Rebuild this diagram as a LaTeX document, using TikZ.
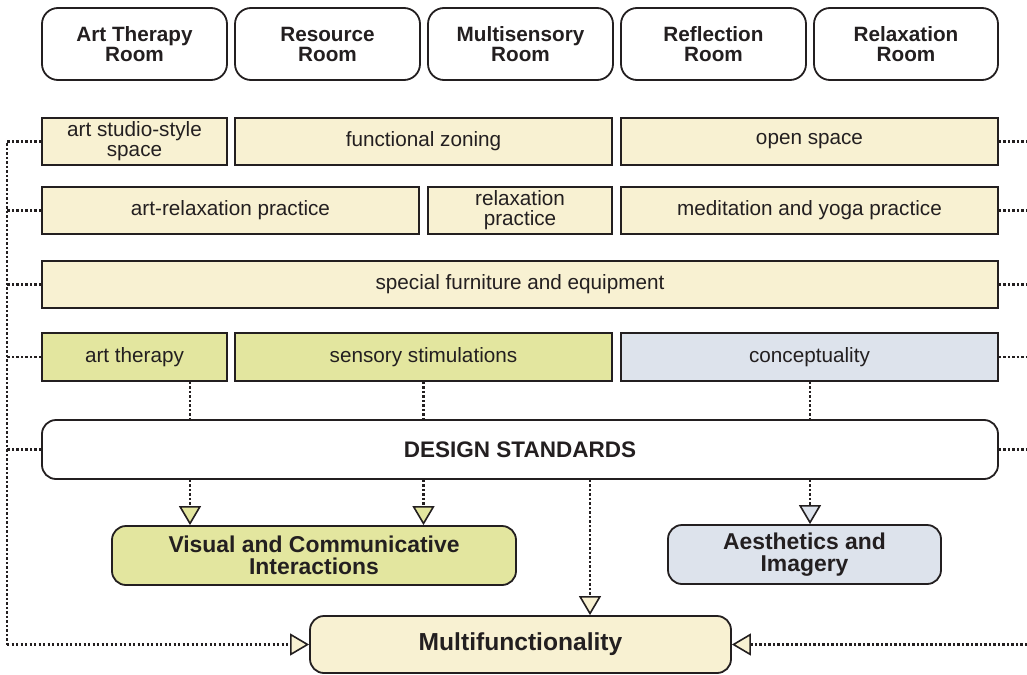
\documentclass[tikz,border=0pt]{standalone}
\usepackage{fontspec}
\setmainfont{Liberation Sans}
\usetikzlibrary{arrows.meta}
\definecolor{ink}{HTML}{231F20}
\definecolor{cream}{HTML}{F8F1D2}
\definecolor{olive}{HTML}{E3E69F}
\definecolor{steel}{HTML}{DDE3EC}
\tikzset{
  box/.style={draw=ink, line width=1.8pt, text=ink, inner sep=0pt, align=center,
    font=\fontsize{20.7}{20}\selectfont},
  roombox/.style={box, rounded corners=16pt, fill=white,
    font=\fontsize{20.7}{20}\selectfont\bfseries},
  featbox/.style={box, fill=cream},
  greenbox/.style={box, fill=olive},
  bluebox/.style={box, fill=steel},
  dots/.style={draw=ink, line width=2.7pt, dash pattern=on 2.4pt off 2.1pt},
  tipG/.style={-{Triangle[width=22pt,length=19pt,fill=olive,line width=1.6pt]}},
  tipB/.style={-{Triangle[width=22pt,length=19pt,fill=steel,line width=1.6pt]}},
  tipC/.style={-{Triangle[width=22pt,length=19pt,fill=cream,line width=1.6pt]}},
}
% rectangle node given by its corners: style, name, x1, y1, x2, y2
\newcommand{\bx}[6]{%
  \node[#1, minimum width={#5-#3}, minimum height={#6-#4}] (#2) at ({(#3+#5)/2},{(#4+#6)/2})}
\begin{document}
\begin{tikzpicture}[x=1pt,y=-1pt]
\useasboundingbox (0,0) rectangle (1027,674);

% room headers
\bx{roombox}{r1}{42}{8}{227}{80}{Art Therapy\\Room};
\bx{roombox}{r2}{235}{8}{420}{80}{Resource\\Room};
\bx{roombox}{r3}{428}{8}{613}{80}{Multisensory\\Room};
\bx{roombox}{r4}{621}{8}{806}{80}{Reflection\\Room};
\bx{roombox}{r5}{814}{8}{998}{80}{Relaxation\\Room};

% spatial features
\bx{featbox}{studio}{42}{118}{227}{165}{art studio-style\\space};
\bx{featbox}{zoning}{235}{118}{612}{165}{functional zoning};
\bx{featbox}{open}{621}{118}{998}{165}{open space};

% practices
\bx{featbox}{artrelax}{42}{187}{419}{234}{art-relaxation practice};
\bx{featbox}{relax}{428}{187}{612}{234}{relaxation\\practice};
\bx{featbox}{yoga}{621}{187}{998}{234}{meditation and yoga practice};

% furniture
\bx{featbox}{furn}{42}{261}{998}{308}{special furniture and equipment};

% approaches
\bx{greenbox}{arttherapy}{42}{333}{227}{381}{art therapy};
\bx{greenbox}{sensory}{235}{333}{612}{381}{sensory stimulations};
\bx{bluebox}{concept}{621}{333}{998}{381}{conceptuality};

% design standards
\node[box, fill=white, rounded corners=14pt, minimum width=956, minimum height=59,
  font=\fontsize{22.5}{22}\selectfont\bfseries] (design) at (520,449.5) {DESIGN STANDARDS};

% outcomes
\node[box, fill=olive, rounded corners=14pt, minimum width=404, minimum height=59,
  font=\fontsize{22.9}{22}\selectfont\bfseries] (visual) at (314,555.5) {Visual and Communicative\\Interactions};
\node[box, fill=steel, rounded corners=14pt, minimum width=273, minimum height=59,
  font=\fontsize{22.9}{22}\selectfont\bfseries] (aest) at (804.5,554.5) {Aesthetics and\\Imagery};
\node[box, fill=cream, rounded corners=14pt, minimum width=421, minimum height=57,
  font=\fontsize{24.6}{24}\selectfont\bfseries] (multi) at (520.5,644.5) {Multifunctionality};

% collecting lines on both sides
\coordinate (lc) at (7,644.5);
\coordinate (rc) at (1027,644.5);
\draw[dots] (studio.west) -| (lc);
\foreach \n in {artrelax,furn,arttherapy,design}
  \draw[dots] (\n.west) -- (\n.west -| lc);
\draw[dots,tipC] (lc) -- (multi.west);
\foreach \n in {open,yoga,furn,concept,design}
  \draw[dots] (\n.east) -- (\n.east -| rc);
\draw[dots,tipC] (rc) -- (multi.east);

% approaches feed the design standards
\draw[dots] (arttherapy.south -| 190,0) -- (design.north -| 190,0);
\draw[dots] (sensory.south -| 423.5,0) -- (design.north -| 423.5,0);
\draw[dots] (concept.south -| 810,0) -- (design.north -| 810,0);

% design standards lead to the outcomes
\draw[dots,tipG] (design.south -| 190,0) -- (visual.north -| 190,0);
\draw[dots,tipG] (design.south -| 423.5,0) -- (visual.north -| 423.5,0);
\draw[dots,tipC] (design.south -| 590,0) -- (multi.north -| 590,0);
\draw[dots,tipB] (design.south -| 810,0) -- (aest.north -| 810,0);
\end{tikzpicture}
\end{document}
